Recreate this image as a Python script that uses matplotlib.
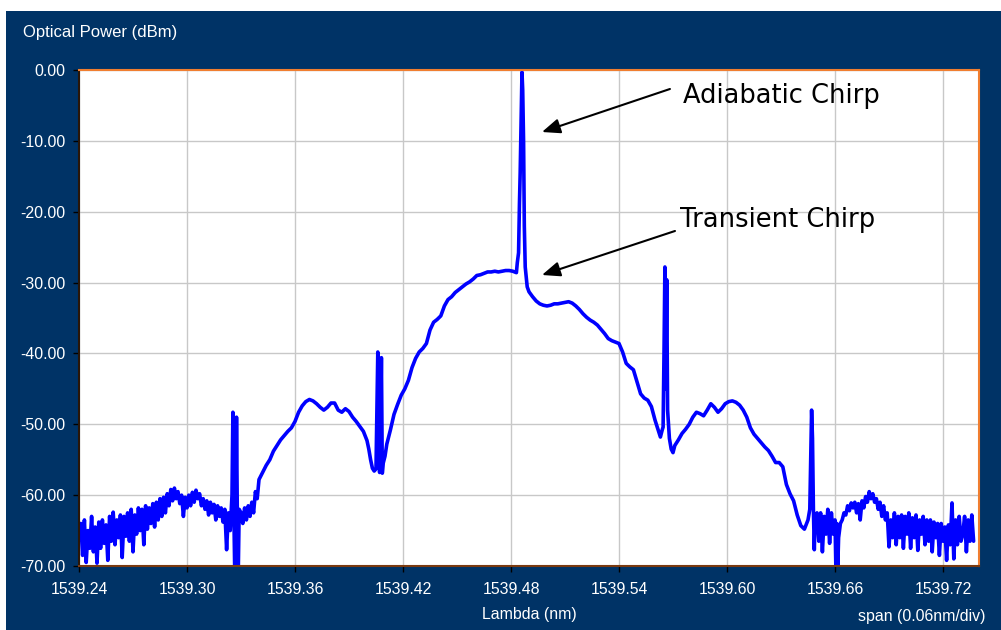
import matplotlib
matplotlib.use("Agg")
import matplotlib.pyplot as plt
from matplotlib.patches import Rectangle

# ---------------- data ----------------
wavelength_nm = [
    1539.241, 1539.242, 1539.243, 1539.244, 1539.245, 1539.246, 1539.247, 1539.248, 1539.249, 1539.250,
    1539.251, 1539.252, 1539.253, 1539.254, 1539.255, 1539.256, 1539.257, 1539.258, 1539.259, 1539.260,
    1539.261, 1539.262, 1539.263, 1539.264, 1539.265, 1539.266, 1539.267, 1539.268, 1539.269, 1539.270,
    1539.271, 1539.272, 1539.273, 1539.274, 1539.275, 1539.276, 1539.277, 1539.278, 1539.279, 1539.280,
    1539.281, 1539.282, 1539.283, 1539.284, 1539.285, 1539.286, 1539.287, 1539.288, 1539.289, 1539.290,
    1539.291, 1539.292, 1539.293, 1539.294, 1539.295, 1539.296, 1539.297, 1539.298, 1539.299, 1539.300,
    1539.301, 1539.302, 1539.303, 1539.304, 1539.305, 1539.306, 1539.307, 1539.308, 1539.309, 1539.310,
    1539.311, 1539.312, 1539.313, 1539.314, 1539.315, 1539.316, 1539.317, 1539.318, 1539.319, 1539.320,
    1539.321, 1539.322, 1539.323, 1539.324,
    1539.3250, 1539.3255, 1539.3260, 1539.3265, 1539.3270, 1539.3275, 1539.3280, 1539.3285, 1539.3290,
    1539.330, 1539.331, 1539.332, 1539.333, 1539.334, 1539.335, 1539.336, 1539.337, 1539.338, 1539.339,
    1539.340, 1539.342, 1539.344, 1539.346, 1539.348, 1539.350, 1539.352, 1539.354, 1539.356, 1539.358,
    1539.360, 1539.362, 1539.364, 1539.366, 1539.368, 1539.370, 1539.372, 1539.374, 1539.376, 1539.378,
    1539.380, 1539.382, 1539.384, 1539.386, 1539.388, 1539.390, 1539.392, 1539.394, 1539.396, 1539.398,
    1539.400, 1539.401, 1539.402, 1539.403, 1539.404,
    1539.4050, 1539.4055, 1539.4060, 1539.4065, 1539.4070, 1539.4075, 1539.4080, 1539.4085, 1539.4090,
    1539.410, 1539.411, 1539.413, 1539.415, 1539.417, 1539.419, 1539.421, 1539.423, 1539.425, 1539.427,
    1539.429, 1539.431, 1539.433, 1539.435, 1539.437, 1539.439, 1539.441, 1539.443, 1539.445, 1539.447,
    1539.449, 1539.451, 1539.453, 1539.455, 1539.457, 1539.459, 1539.461, 1539.463, 1539.465, 1539.467,
    1539.469, 1539.471, 1539.473, 1539.475, 1539.477, 1539.479, 1539.481, 1539.483,
    1539.4835, 1539.4842, 1539.4847, 1539.4851, 1539.4857, 1539.4861, 1539.4865, 1539.4870, 1539.4874,
    1539.4879,
    1539.489, 1539.490, 1539.492, 1539.494, 1539.496, 1539.498, 1539.500, 1539.502, 1539.504, 1539.506,
    1539.508, 1539.510, 1539.512, 1539.514, 1539.516, 1539.518, 1539.520, 1539.522, 1539.524, 1539.526,
    1539.528, 1539.530, 1539.532, 1539.534, 1539.536, 1539.538, 1539.540, 1539.542, 1539.544, 1539.546,
    1539.548, 1539.550, 1539.552, 1539.554, 1539.556, 1539.558, 1539.560, 1539.562, 1539.563, 1539.564,
    1539.5645, 1539.5650, 1539.5655, 1539.5660, 1539.5665, 1539.5670,
    1539.568, 1539.569, 1539.570, 1539.571, 1539.573, 1539.575, 1539.577, 1539.579, 1539.581, 1539.583,
    1539.585, 1539.587, 1539.589, 1539.591, 1539.593, 1539.595, 1539.597, 1539.599, 1539.601, 1539.603,
    1539.605, 1539.607, 1539.609, 1539.611, 1539.613, 1539.615, 1539.617, 1539.619, 1539.621, 1539.623,
    1539.625, 1539.627, 1539.629, 1539.631, 1539.633, 1539.635, 1539.637, 1539.639, 1539.641, 1539.643,
    1539.645, 1539.646,
    1539.6465, 1539.6470, 1539.6475, 1539.6480, 1539.6485, 1539.6490,
    1539.650, 1539.651, 1539.652, 1539.653, 1539.654, 1539.655, 1539.656, 1539.657, 1539.658, 1539.659,
    1539.660, 1539.6605, 1539.661, 1539.6615, 1539.662, 1539.663, 1539.664, 1539.665, 1539.666, 1539.667,
    1539.668, 1539.669, 1539.670, 1539.671, 1539.672, 1539.673, 1539.674, 1539.675, 1539.676, 1539.677,
    1539.678, 1539.679, 1539.680, 1539.681, 1539.682, 1539.683, 1539.684, 1539.685, 1539.686, 1539.687,
    1539.688, 1539.689, 1539.690, 1539.691, 1539.692, 1539.693, 1539.694, 1539.695, 1539.696, 1539.697,
    1539.698, 1539.699, 1539.700, 1539.701, 1539.702, 1539.703, 1539.704, 1539.705, 1539.706, 1539.707,
    1539.708, 1539.709, 1539.710, 1539.711, 1539.712, 1539.713, 1539.714, 1539.715, 1539.716, 1539.717,
    1539.718, 1539.719, 1539.720, 1539.721, 1539.722, 1539.723, 1539.724, 1539.725, 1539.726, 1539.727,
    1539.728, 1539.729, 1539.730, 1539.731, 1539.732, 1539.733, 1539.734, 1539.735, 1539.736, 1539.737,
]

power_dbm = [
    -64.0, -68.5, -63.5, -69.5, -65.0, -67.5, -63.0, -68.0, -64.5, -69.6,
    -63.8, -67.5, -63.5, -66.8, -64.2, -69.2, -63.0, -66.5, -62.4, -67.0,
    -63.5, -66.0, -62.8, -68.8, -63.0, -65.8, -62.5, -66.5, -62.0, -68.0,
    -62.8, -65.5, -61.8, -65.0, -62.0, -67.0, -61.5, -64.8, -61.8, -64.0,
    -61.2, -64.5, -61.0, -63.5, -60.5, -63.0, -60.3, -62.5, -59.8, -61.5,
    -59.2, -60.8, -59.0, -60.5, -59.5, -61.2, -60.0, -63.0, -60.3, -61.8,
    -60.0, -61.5, -59.6, -61.0, -59.3, -60.5, -59.8, -61.5, -60.5, -62.0,
    -60.8, -62.8, -61.0, -62.5, -61.3, -63.5, -61.5, -63.0, -61.8, -63.8,
    -62.0, -67.7, -62.5, -65.0,
    -60.0, -48.3, -62.0, -70.5, -70.5, -49.0, -64.0, -70.5, -62.0,
    -62.5, -64.0, -61.8, -63.5, -61.5, -63.0, -61.0, -62.5, -59.5, -60.5,
    -57.8, -56.8, -55.8, -55.0, -53.8, -53.0, -52.2, -51.6, -51.0, -50.5,
    -49.6, -48.3, -47.4, -46.8, -46.5, -46.7, -47.1, -47.6, -48.0, -47.6,
    -47.0, -47.0, -48.0, -48.3, -47.8, -48.2, -49.0, -49.6, -50.3, -51.0,
    -52.3, -53.5, -55.0, -56.2, -56.6,
    -56.3, -48.0, -39.8, -50.0, -56.8, -52.0, -40.6, -56.9, -55.5,
    -54.5, -52.8, -50.8, -48.6, -47.2, -45.9, -45.0, -43.8, -42.0, -40.7,
    -39.8, -39.3, -38.6, -36.7, -35.6, -35.2, -34.7, -33.3, -32.4, -32.0,
    -31.4, -31.0, -30.6, -30.2, -29.9, -29.5, -29.0, -28.9, -28.7, -28.5,
    -28.5, -28.4, -28.5, -28.4, -28.3, -28.3, -28.4, -28.6,
    -27.2, -25.8, -18.8, -14.5, -5.6, -0.3, -2.8, -10.3, -22.0,
    -27.8,
    -30.6, -31.3, -32.0, -32.6, -33.0, -33.2, -33.3, -33.2, -33.0, -33.0,
    -32.9, -32.8, -32.7, -32.9, -33.3, -33.8, -34.4, -34.9, -35.3, -35.6,
    -36.0, -36.6, -37.2, -37.9, -38.2, -38.4, -38.6, -39.8, -41.4, -41.9,
    -42.3, -44.0, -45.7, -46.3, -46.6, -47.5, -49.4, -51.0, -51.8, -50.8,
    -50.4, -40.0, -27.8, -45.0, -29.6, -48.0,
    -52.0, -53.5, -54.0, -53.0, -52.2, -51.3, -50.7, -50.0, -49.0, -48.3,
    -48.5, -48.8, -48.0, -47.1, -47.6, -48.3, -47.8, -47.1, -46.8, -46.7,
    -46.9, -47.3, -48.0, -49.0, -50.5, -51.4, -52.0, -52.6, -53.2, -53.7,
    -54.5, -55.4, -55.4, -56.0, -58.5, -59.8, -60.8, -62.8, -64.3, -64.8,
    -63.5, -62.0,
    -55.0, -48.0, -52.0, -62.0, -67.7, -63.0,
    -62.5, -66.5, -62.5, -68.0, -63.0, -65.5, -62.0, -66.8, -62.5, -65.5,
    -63.5, -70.5, -64.0, -70.5, -66.0, -64.0, -63.5, -62.5, -62.8, -61.5,
    -62.2, -61.1, -61.8, -61.0, -62.5, -61.2, -63.5, -60.8, -61.8, -60.2,
    -61.0, -59.5, -60.5, -59.8, -61.0, -60.5, -62.0, -61.0, -63.0, -61.5,
    -63.5, -62.5, -67.3, -63.5, -66.0, -62.5, -67.0, -63.0, -66.0, -62.8,
    -67.5, -63.0, -65.5, -62.5, -67.5, -63.2, -66.0, -62.8, -67.8, -63.5,
    -65.5, -63.0, -67.0, -63.5, -66.5, -63.5, -68.0, -63.8, -66.0, -64.0,
    -68.5, -64.0, -66.5, -64.5, -69.2, -64.2, -67.0, -61.1, -69.0, -63.5,
    -67.0, -63.0, -66.5, -65.5, -63.0, -68.0, -63.5, -66.5, -62.8, -66.5,
]

x_ticks = [1539.24, 1539.30, 1539.36, 1539.42, 1539.48, 1539.54, 1539.60, 1539.66, 1539.72]
x_tick_labels = ["1539.24", "1539.30", "1539.36", "1539.42", "1539.48",
                 "1539.54", "1539.60", "1539.66", "1539.72"]
y_ticks = [0, -10, -20, -30, -40, -50, -60, -70]
y_tick_labels = ["0.00", "-10.00", "-20.00", "-30.00", "-40.00", "-50.00", "-60.00", "-70.00"]

annotation_labels = ["Adiabatic Chirp", "Transient Chirp"]
arrow_tips = [(1539.4972, -8.75), (1539.4972, -28.93)]
arrow_tails = [(1539.5683, -2.68), (1539.5711, -22.72)]
label_pos = [(1539.5756, -4.66), (1539.5739, -22.16)]

# ---------------- figure ----------------
W, H = 1001, 630
fig = plt.figure(figsize=(W / 100, H / 100), dpi=100, facecolor="white")
bg = "#003366"
fig.patches.append(Rectangle((6 / W, 0), 1 - 6 / W, 1 - 11 / H, transform=fig.transFigure,
                             facecolor=bg, edgecolor="none", zorder=-10))

ax = fig.add_axes([79 / W, (H - 566) / H, 900 / W, 496 / H])
ax.set_facecolor("white")
ax.plot(wavelength_nm, power_dbm, color="#0000FF", lw=2.6,
        solid_joinstyle="round", solid_capstyle="round")

ax.set_xlim(1539.24, 1539.74)
ax.set_ylim(-70, 0)
ax.set_xticks(x_ticks)
ax.set_xticklabels(x_tick_labels)
ax.set_yticks(y_ticks)
ax.set_yticklabels(y_tick_labels)
ax.grid(True, color="#C8C8C8", lw=1.0)
ax.set_axisbelow(True)

tfont = dict(family=["Liberation Sans", "DejaVu Sans"])
ax.tick_params(axis="both", colors="black", labelcolor="white", length=4.5, width=1.0,
               direction="out", labelsize=11.4)
ax.tick_params(axis="y", pad=5)
ax.tick_params(axis="x", pad=7)
for lab in ax.get_xticklabels() + ax.get_yticklabels():
    lab.set_family(["Liberation Sans", "DejaVu Sans"])

ax.spines["top"].set_color("#F07E30")
ax.spines["right"].set_color("#F07E30")
ax.spines["left"].set_color("#2A1608")
ax.spines["bottom"].set_color("#7A3A10")
for s in ax.spines.values():
    s.set_linewidth(1.5)

fig.text(23 / W, 1 - 33 / H, "Optical Power (dBm)", color="white", fontsize=12,
         va="center", ha="left", **tfont)
fig.text(529 / W, 1 - 614 / H, "Lambda (nm)", color="white", fontsize=11.4,
         va="center", ha="center", **tfont)
fig.text(986 / W, 1 - 616 / H, "span (0.06nm/div)", color="white", fontsize=11.4,
         va="center", ha="right", **tfont)

for lbl, tip, tail, pos in zip(annotation_labels, arrow_tips, arrow_tails, label_pos):
    ax.annotate("", xy=tip, xytext=tail,
                arrowprops=dict(arrowstyle="-|>,head_length=1.1,head_width=0.45",
                                color="black", lw=1.5, shrinkA=0, shrinkB=0))
    ax.text(pos[0], pos[1], lbl, fontsize=18.5, color="black", ha="left",
            va="baseline", family="DejaVu Sans")

fig.savefig("out.png", dpi=100, facecolor=fig.get_facecolor())
